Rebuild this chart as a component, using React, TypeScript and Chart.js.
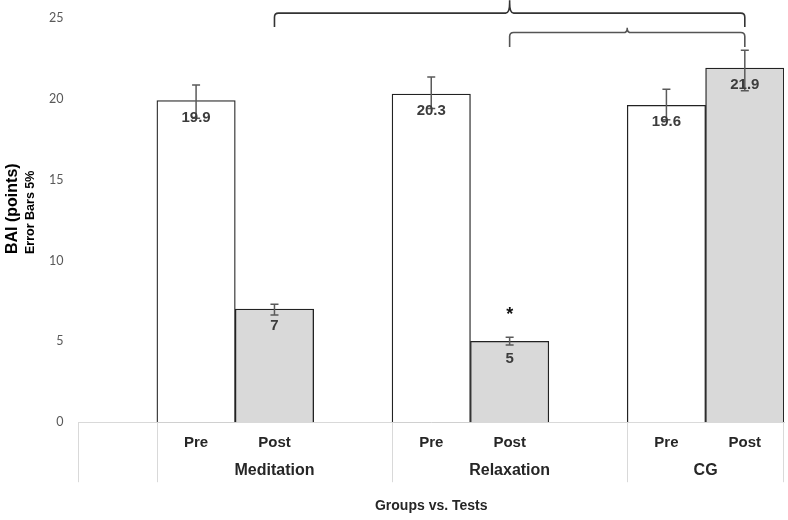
import React, { useEffect, useRef } from "react";
import { Chart, registerables } from "chart.js";

Chart.register(...registerables);

const categories = ["", "Pre", "Post", "", "Pre", "Post", "", "Pre", "Post"];
const groupNames = ["", "Meditation", "Relaxation", "CG"];
const groupSpans = [1, 3, 3, 2];
const values = [null, 19.9, 7, null, 20.3, 5, null, 19.6, 21.9];
const valueLabels = ["", "19.9", "7", "", "20.3", "5", "", "19.6", "21.9"];
const errPlus = [null, 0.95, 0.3, null, 1.05, 0.25, null, 1.0, 1.1];
const errMinus = [null, 1.1, 0.37, null, 0.9, 0.23, null, 0.9, 1.4];
const yTicks = [0, 5, 10, 15, 20, 25];
const starIndex = 5;
const starValue = 6.8;
// braces: [fromIndex, toIndex, horizontal level, end level, tip level]
const braces = [
  [2, 8, 25.3, 24.45, 26.1, "#333333"],
  [5, 8, 24.1, 23.2, 24.4, "#555555"],
];

const ARIAL = "'Liberation Sans', Arial, sans-serif";

const overlayPlugin = {
  id: "overlay",
  afterDatasetsDraw(chart: any) {
    const ctx = chart.ctx;
    const x = chart.scales.x;
    const y = chart.scales.y;
    const area = chart.chartArea;
    ctx.save();
    // error bars
    ctx.strokeStyle = "#5a5a5a";
    ctx.lineWidth = 1.5;
    values.forEach((v, i) => {
      if (v == null) return;
      const px = x.getPixelForValue(i);
      const top = y.getPixelForValue(v + (errPlus[i] as number));
      const bot = y.getPixelForValue(v - (errMinus[i] as number));
      ctx.beginPath();
      ctx.moveTo(px, top);
      ctx.lineTo(px, bot);
      ctx.moveTo(px - 4, top);
      ctx.lineTo(px + 4, top);
      ctx.moveTo(px - 4, bot);
      ctx.lineTo(px + 4, bot);
      ctx.stroke();
    });
    // value labels
    ctx.fillStyle = "#3c3c3c";
    ctx.font = `bold 15px ${ARIAL}`;
    ctx.textAlign = "center";
    ctx.textBaseline = "middle";
    values.forEach((v, i) => {
      if (v == null) return;
      ctx.fillText(valueLabels[i], x.getPixelForValue(i), y.getPixelForValue(v) + 17);
    });
    // asterisk
    ctx.fillStyle = "#111";
    ctx.font = `bold 18px ${ARIAL}`;
    ctx.fillText("*", x.getPixelForValue(starIndex), y.getPixelForValue(starValue) + 3);
    // braces
    braces.forEach((b: any) => {
      const [i0, i1, lvl, endLvl, tipLvl, col] = b;
      const x0 = x.getPixelForValue(i0);
      const x1 = x.getPixelForValue(i1);
      const xm = (x0 + x1) / 2;
      const yh = y.getPixelForValue(lvl);
      const ye = y.getPixelForValue(endLvl);
      const yt = y.getPixelForValue(tipLvl);
      const r = 4;
      ctx.strokeStyle = col;
      ctx.lineWidth = 1.6;
      ctx.beginPath();
      ctx.moveTo(x0, ye);
      ctx.lineTo(x0, yh + r);
      ctx.quadraticCurveTo(x0, yh, x0 + r, yh);
      ctx.lineTo(xm - r, yh);
      ctx.quadraticCurveTo(xm, yh, xm, yt + (yh - yt) * 0.2);
      ctx.lineTo(xm, yt);
      ctx.moveTo(xm, yt + (yh - yt) * 0.2);
      ctx.quadraticCurveTo(xm, yh, xm + r, yh);
      ctx.lineTo(x1 - r, yh);
      ctx.quadraticCurveTo(x1, yh, x1, yh + r);
      ctx.lineTo(x1, ye);
      ctx.stroke();
    });
    // category separators and group labels
    const sepBottom = area.bottom + 60;
    ctx.strokeStyle = "#d9d9d9";
    ctx.lineWidth = 1;
    const boundary = (i: number) => {
      if (i <= 0) return area.left;
      if (i >= categories.length) return area.right;
      return (x.getPixelForValue(i - 1) + x.getPixelForValue(i)) / 2;
    };
    let start = 0;
    ctx.fillStyle = "#262626";
    ctx.font = `bold 16px ${ARIAL}`;
    ctx.textBaseline = "middle";
    groupSpans.forEach((span, g) => {
      const a = boundary(start);
      const bnd = boundary(start + span);
      ctx.beginPath();
      ctx.moveTo(Math.round(a) + 0.5, area.bottom);
      ctx.lineTo(Math.round(a) + 0.5, sepBottom);
      ctx.stroke();
      if (groupNames[g]) ctx.fillText(groupNames[g], (a + bnd) / 2, area.bottom + 48);
      start += span;
    });
    const last = boundary(categories.length);
    ctx.beginPath();
    ctx.moveTo(Math.round(last) - 0.5, area.bottom);
    ctx.lineTo(Math.round(last) - 0.5, sepBottom);
    ctx.stroke();
    // y axis title
    const cy = 254;
    ctx.fillStyle = "#000";
    ctx.textAlign = "left";
    ctx.save();
    ctx.translate(13, cy);
    ctx.rotate(-Math.PI / 2);
    ctx.font = `bold 16px ${ARIAL}`;
    ctx.fillText("BAI (points)", 0, 0);
    ctx.restore();
    ctx.save();
    ctx.translate(31, cy);
    ctx.rotate(-Math.PI / 2);
    ctx.font = `bold 12.5px ${ARIAL}`;
    ctx.fillText("Error Bars 5%", 0, 0);
    ctx.restore();
    ctx.restore();
  },
};

export default function App() {
  const ref = useRef<HTMLCanvasElement>(null);
  useEffect(() => {
    document.body.style.margin = "0";
    const chart = new Chart(ref.current as HTMLCanvasElement, {
      type: "bar",
      data: {
        labels: categories,
        datasets: [
          {
            data: values as any,
            backgroundColor: categories.map((c) => (c === "Post" ? "#d9d9d9" : "#ffffff")),
            borderColor: "#222222",
            borderWidth: 1.3,
            categoryPercentage: 1,
            barPercentage: 1,
          },
        ],
      },
      options: {
        responsive: false,
        animation: false,
        layout: { padding: { left: 42, right: 4, top: 18, bottom: 0 } },
        plugins: { legend: { display: false }, tooltip: { enabled: false } },
        scales: {
          x: {
            grid: { display: false },
            border: { display: true, color: "#d9d9d9", width: 1 },
            ticks: {
              autoSkip: false,
              maxRotation: 0,
              color: "#262626",
              font: { family: ARIAL, size: 15, weight: "bold" },
              padding: 4,
            },
            title: {
              display: true,
              text: "Groups vs. Tests",
              color: "#262626",
              font: { family: ARIAL, size: 14, weight: "bold" },
              padding: { top: 42, bottom: 5 },
            },
          },
          y: {
            min: 0,
            max: 25,
            afterBuildTicks: (axis: any) => {
              axis.ticks = yTicks.map((v) => ({ value: v }));
            },
            grid: { display: false },
            border: { display: false },
            ticks: {
              color: "#595959",
              font: { family: "Lato, sans-serif", size: 12.5 },
              padding: 7,
            },
          },
        },
      },
      plugins: [overlayPlugin],
    });
    return () => chart.destroy();
  }, []);
  return (
    <div style={{ width: 788, height: 520 }}>
      <canvas ref={ref} width={788} height={520} />
    </div>
  );
}
